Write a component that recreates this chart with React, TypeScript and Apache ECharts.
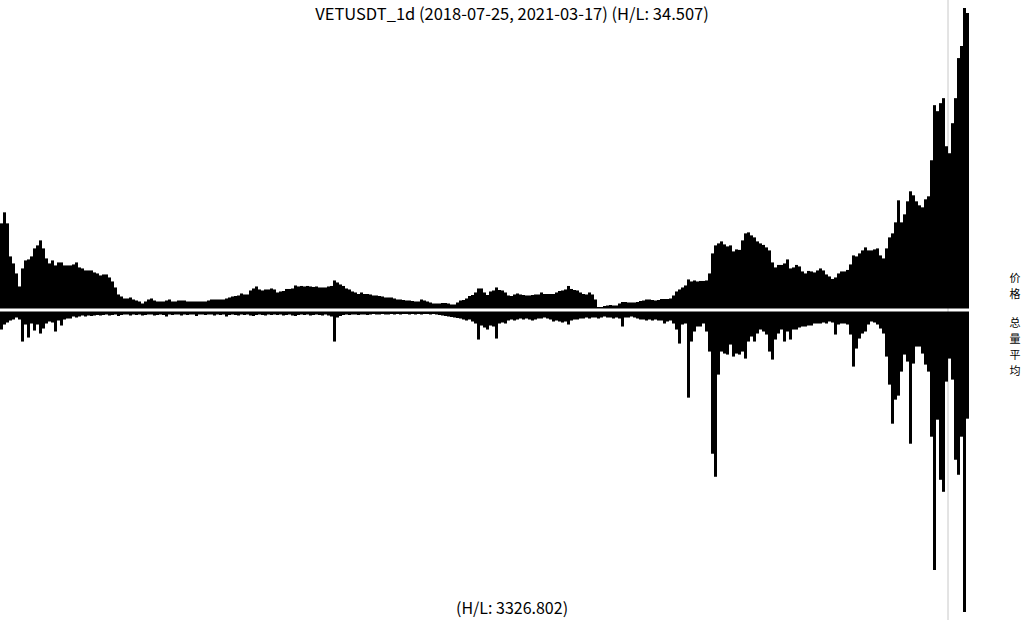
import React, { useEffect, useRef } from "react";
import * as echarts from "echarts";

const TITLE = "VETUSDT_1d (2018-07-25, 2021-03-17) (H/L: 34.507)";
const VOLUME_NOTE = "(H/L: 3326.802)";
const PRICE_LABEL = "价格";
const VOLUME_LABEL = "总量平均";
const START_DATE = "2018-07-25";
const STEP_DAYS = 3;
const MARKER_INDEX = 316;

// close price, one bar per 3 days (relative chart units)
const price: number[] = [
  85, 96, 85, 52, 45, 35, 22, 40, 48, 49,
  52, 60, 63, 68, 60, 50, 45, 48, 43, 46,
  46, 43, 43, 43, 44, 46, 41, 40, 38, 38,
  38, 36, 35, 33, 34, 34, 31, 27, 21, 14,
  12, 10, 10, 11, 9, 8, 7, 5, 7, 9,
  10, 8, 7, 7, 7, 8, 9, 7, 7, 8,
  8, 8, 7, 7, 7, 7, 7, 7, 7, 8,
  9, 9, 9, 9, 9, 10, 11, 12, 12.5, 13,
  15, 14, 14, 18, 20, 22, 19, 18, 19, 19,
  20, 19, 16, 17, 17.5, 19.5, 19.5, 20, 23, 22,
  22.5, 22, 22.5, 22, 21.5, 22, 21, 21, 21, 22,
  22.5, 28, 26, 24, 22.5, 20, 19, 17, 16, 14.5,
  16, 14.5, 14.5, 14, 13, 13, 12.5, 12, 11, 11,
  11, 10, 9, 9, 8.5, 8, 8, 7.5, 7, 7,
  9, 8, 7, 6, 5, 5, 5, 5.5, 5.5, 5,
  4, 4, 6, 8, 8.5, 10, 12.5, 13.5, 16, 20,
  20, 16, 13.5, 17, 18, 21, 18.5, 18, 16, 13,
  12.5, 14, 15, 14, 13.5, 13, 13, 13.5, 14, 14,
  16, 14.5, 14.5, 14.5, 14.5, 16, 17.5, 18, 19, 22.5,
  19.5, 18.5, 18, 16, 14.5, 14, 16, 14, 9, 1.5,
  1.5, 2.5, 3, 3.5, 3, 3, 5, 6.5, 6.5, 6,
  6, 6, 6.5, 7.5, 8, 9, 9, 8.5, 8, 8.5,
  9.5, 9.5, 9.5, 10, 13, 17, 19, 21, 23, 29,
  27, 28, 27, 27.5, 27.5, 28, 35, 55, 63, 65,
  67, 64, 62, 63, 57, 59, 58.5, 68, 75, 76,
  73, 71, 67, 65, 63.5, 61, 58, 46, 41, 43.5,
  43.5, 45, 49, 40, 41, 43.5, 42, 37, 35, 37.5,
  37, 36, 38, 40, 38, 34, 32, 29.5, 31, 35,
  37, 37, 38.5, 44, 53, 52, 55, 58, 61, 58,
  58, 59, 60, 53, 50, 60, 71, 75, 86, 108,
  86, 94, 107, 117, 113, 107, 103, 101, 109, 112,
  148, 203, 197, 205, 210, 162, 155, 185, 210, 250,
  262, 300, 295,
];

// average volume, one bar per 3 days (relative chart units)
const volume: number[] = [
  18, 13, 11, 9, 8, 6, 8, 30, 13, 26,
  12, 19, 13, 22, 17, 12, 10, 11, 20, 9,
  14, 8, 7, 7, 5, 6, 5, 4, 5, 4,
  4.5, 4, 3.5, 4, 3.5, 3, 4, 3.5, 3, 4.5,
  3.5, 3, 3, 4, 3, 3.5, 3, 4, 3.5, 3,
  3, 4, 3.5, 3, 3.5, 5, 3, 3.5, 3, 3,
  4, 3, 3.5, 3, 3, 4.5, 3, 3, 3.5, 3,
  3, 4, 3, 3.5, 3, 5, 3.5, 3, 3.5, 4,
  3, 3.5, 3, 4, 4.5, 3.5, 3, 3.5, 4, 3,
  3.5, 3, 3.5, 3, 4, 3.5, 3, 4, 4.5, 3.5,
  3, 3.5, 3, 4, 3.5, 3, 3.5, 4, 3, 4,
  5, 30, 6, 4.5, 3.5, 3, 3.5, 3, 3, 3.5,
  3, 3, 3.5, 3, 2.5, 3, 3, 2.5, 3, 3,
  2.5, 3, 2.5, 3, 2.5, 2.5, 3, 2.5, 3, 2.5,
  3, 2.5, 2.5, 3, 2.5, 3, 3.5, 4, 4.5, 5,
  5.5, 6, 6.5, 7, 8, 9, 8, 10, 12, 28,
  14, 16, 18, 14, 15, 27, 12, 11, 12, 9,
  8, 9, 8, 7, 8, 7, 8, 9, 8, 7,
  7, 6, 7, 8, 10, 9, 10, 11, 10, 13,
  9, 8, 8, 7, 7, 6, 7, 6, 6, 7,
  6, 5, 6, 6, 7, 6, 7, 15, 6, 6,
  5, 6, 7, 8, 8, 9, 8, 9, 8, 9,
  9, 12, 10, 9, 12, 18, 32, 13, 12, 86,
  30, 20, 15, 15, 12, 20, 40, 142, 165, 63,
  40, 42, 43, 33, 45, 42, 43, 40, 47, 30,
  25, 30, 22, 18, 20, 23, 40, 48, 28, 22,
  18, 30, 20, 28, 18, 18, 16, 15, 15, 14,
  14, 12, 12, 12, 11, 12, 10, 11, 23, 13,
  12, 12, 13, 23, 55, 37, 27, 22, 20, 13,
  10, 11, 13, 17, 22, 45, 73, 112, 88, 84,
  60, 43, 50, 132, 52, 35, 35, 42, 53, 60,
  125, 258, 108, 168, 180, 70, 47, 68, 148, 163,
  125, 300, 107,
];

const FONT = "'Noto Sans CJK SC', 'Noto Sans', sans-serif";

function buildDates(n: number): string[] {
  const [y, m, d] = START_DATE.split("-").map(Number);
  const t0 = Date.UTC(y, m - 1, d);
  const out: string[] = [];
  for (let i = 0; i < n; i++) {
    out.push(new Date(t0 + i * STEP_DAYS * 86400000).toISOString().slice(0, 10));
  }
  return out;
}

function verticalLabel(label: string, top: number, step: number) {
  return label.split("").map((ch, i) => ({
    type: "text",
    left: 1009.5,
    top: top + i * step,
    silent: true,
    style: { text: ch, fill: "#000", font: `11px ${FONT}`, lineHeight: 11 },
  }));
}

export default function App() {
  const ref = useRef<HTMLDivElement>(null);
  useEffect(() => {
    if (!ref.current) return;
    const chart = echarts.init(ref.current, undefined, { renderer: "svg" });
    const dates = buildDates(price.length);
    const base = { fontWeight: "normal" as const, color: "#000", fontFamily: FONT };
    chart.setOption({
      animation: false,
      backgroundColor: "#fff",
      title: [
        { text: TITLE, left: "center", top: 0, textStyle: { ...base, fontSize: 16.5 } },
        { text: VOLUME_NOTE, left: "center", bottom: 0, textStyle: { ...base, fontSize: 16 } },
      ],
      grid: [
        { left: 0, width: 969, top: 8, height: 300.5 },
        { left: 0, width: 969, top: 311.5, height: 300.5 },
      ],
      xAxis: [
        { type: "category", data: dates, gridIndex: 0, show: false },
        { type: "category", data: dates, gridIndex: 1, show: false },
      ],
      yAxis: [
        { type: "value", gridIndex: 0, min: 0, max: "dataMax", show: false },
        { type: "value", gridIndex: 1, min: 0, max: "dataMax", inverse: true, show: false },
      ],
      series: [
        {
          type: "bar", name: PRICE_LABEL, data: price, xAxisIndex: 0, yAxisIndex: 0,
          barCategoryGap: "0%", itemStyle: { color: "#000" },
        },
        {
          type: "bar", name: VOLUME_LABEL, data: volume, xAxisIndex: 1, yAxisIndex: 1,
          barCategoryGap: "0%", itemStyle: { color: "#000" },
        },
      ],
    });
    const xa = chart.convertToPixel({ xAxisIndex: 0 }, dates[MARKER_INDEX - 1]) as number;
    const xb = chart.convertToPixel({ xAxisIndex: 0 }, dates[MARKER_INDEX]) as number;
    const mx = (xa + xb) / 2;
    chart.setOption({
      graphic: [
        {
          type: "line", z: 0, silent: true,
          shape: { x1: mx, y1: 0, x2: mx, y2: 620 },
          style: { stroke: "#c8c8c8", lineWidth: 1 },
        },
        ...verticalLabel(PRICE_LABEL, 271, 16),
        ...verticalLabel(VOLUME_LABEL, 316, 16),
      ],
    });
    return () => chart.dispose();
  }, []);
  return <div ref={ref} style={{ width: 1024, height: 620, position: "absolute", left: 0, top: 0 }} />;
}
